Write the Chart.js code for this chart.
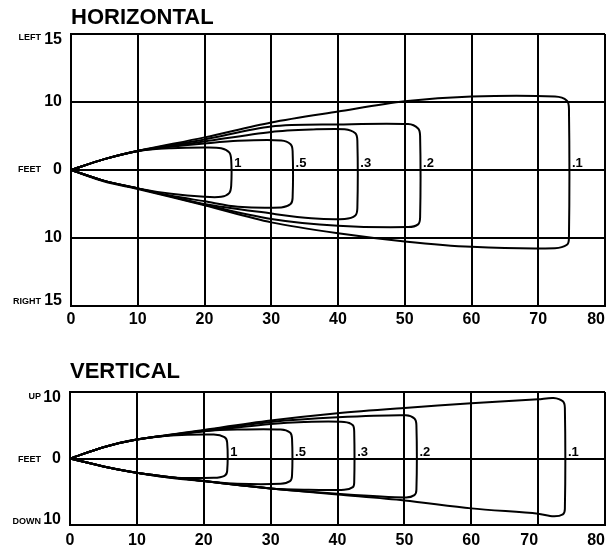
<!DOCTYPE html>
<html>
<head>
<meta charset="utf-8">
<script src="https://cdn.jsdelivr.net/npm/chart.js@4.4.1/dist/chart.umd.min.js"></script>
<style>
  body { margin: 0; background: #fff; }
  canvas { display: block; }
</style>
</head>
<body>
<canvas id="horizontal" width="607" height="336"></canvas>
<canvas id="vertical" width="607" height="218"></canvas>
<script>
// distance in feet along the beam
const xTicks = [0, 10, 20, 30, 40, 50, 60, 70, 80];

// contour names (sensitivity levels)
const contourLabels = ['1', '.5', '.3', '.2', '.1'];

// horizontal pattern: [feet ahead, feet left(+)/right(-)]
const hContour1 = [[0, 0], [5, 1.6], [10, 2.8], [15, 3.2], [20, 3.3], [22.5, 3.2], [23.7, 2.6], [24, 1.5],
  [24, -2.3], [23.7, -3.4], [22.5, -3.95], [20, -3.95], [15, -3.5], [10, -2.7], [5, -1.6], [0, 0]];
const hContour05 = [[0, 0], [5, 1.6], [10, 2.8], [15, 3.4], [20, 3.9], [25, 4.3], [31.5, 4.35], [32.9, 3.8], [33.2, 2.8],
  [33.2, -4.1], [32.9, -5.0], [31.5, -5.5], [25, -5.4], [20, -4.6], [15, -3.8], [10, -2.7], [5, -1.6], [0, 0]];
const hContour03 = [[0, 0], [5, 1.6], [10, 2.8], [20, 4.2], [30, 5.6], [36, 5.95], [41, 6.0], [42.6, 5.4], [42.9, 4.3],
  [42.9, -5.6], [42.6, -6.7], [41, -7.2], [36, -7.1], [30, -6.4], [20, -5.0], [10, -2.7], [5, -1.6], [0, 0]];
const hContour02 = [[0, 0], [5, 1.6], [10, 2.8], [20, 4.5], [30, 6.4], [40, 6.7], [50.5, 6.75], [52, 6.1], [52.3, 5.0],
  [52.3, -7.0], [52, -8.0], [50.5, -8.4], [40, -8.2], [30, -7.2], [20, -5.1], [10, -2.7], [5, -1.6], [0, 0]];
const hContour01 = [[0, 0], [5, 1.6], [10, 2.8], [20, 4.8], [30, 7.0], [40, 8.6], [50, 10.1], [60, 10.8], [72.5, 10.8],
  [74.3, 10.2], [74.6, 9.0], [74.6, -10.0], [74.3, -11.0], [72.5, -11.5], [60, -11.3], [50, -10.5], [40, -9.3],
  [30, -7.7], [20, -5.2], [10, -2.8], [5, -1.7], [0, 0]];

// vertical pattern: [feet ahead, feet up(+)/down(-)]
const vContour1 = [[0, 0], [5, 1.7], [10, 2.85], [15, 3.45], [21.5, 3.6], [23.1, 3.2], [23.5, 2.4],
  [23.5, -1.9], [23.1, -2.6], [21.5, -2.9], [15, -2.85], [10, -2.15], [5, -1.2], [0, 0]];
const vContour05 = [[0, 0], [5, 1.7], [10, 2.85], [15, 3.5], [20, 4.1], [25, 4.35], [31.5, 4.35], [32.9, 3.9], [33.2, 3.0],
  [33.2, -2.6], [32.9, -3.4], [31.5, -3.8], [25, -3.8], [20, -3.4], [15, -2.9], [10, -2.15], [5, -1.2], [0, 0]];
const vContour03 = [[0, 0], [5, 1.7], [10, 2.85], [20, 4.1], [30, 5.2], [35, 5.5], [41, 5.5], [42.3, 5.0], [42.5, 4.0],
  [42.5, -3.6], [42.3, -4.3], [41, -4.7], [35, -4.7], [30, -4.5], [20, -3.4], [10, -2.15], [5, -1.2], [0, 0]];
const vContour02 = [[0, 0], [5, 1.7], [10, 2.85], [20, 4.2], [30, 5.5], [40, 6.2], [50.2, 6.5], [51.5, 6.0], [51.8, 5.0],
  [51.8, -4.7], [51.5, -5.5], [50.2, -5.85], [40, -5.3], [30, -4.5], [20, -3.4], [10, -2.15], [5, -1.2], [0, 0]];
const vContour01 = [[0, 0], [5, 1.7], [10, 2.85], [20, 4.3], [30, 5.7], [40, 6.8], [50, 7.6], [60, 8.3], [70, 8.9],
  [72.3, 9.1], [73.7, 8.6], [74, 7.6], [74, -7.6], [73.7, -8.4], [72.3, -8.7], [70, -8.3], [60, -7.5], [50, -6.3],
  [40, -5.4], [30, -4.5], [20, -3.4], [10, -2.15], [5, -1.2], [0, 0]];

// y tick values and the labels printed beside them
const hYValues = [20, 10, 0, -10, -20];
const hYLabels = ['15', '10', '0', '10', '15'];
const hSideWords = ['LEFT', 'FEET', 'RIGHT'];
const vYValues = [10, 0, -10];
const vYLabels = ['10', '0', '10'];
const vSideWords = ['UP', 'FEET', 'DOWN'];

const FONT = '"Liberation Sans", Arial, Helvetica, sans-serif';

const toDatasets = (contours) => contours.map((pts, i) => ({
  label: contourLabels[i],
  data: pts.map(([x, y]) => ({ x, y })),
  showLine: true,
  borderColor: '#000',
  borderWidth: 2,
  pointRadius: 0,
  tension: 0.3,
  fill: false
}));

// titles, small side words and contour names
const annotate = {
  id: 'annotate',
  afterDraw(chart, args, opts) {
    const ctx = chart.ctx;
    const area = chart.chartArea;
    const xs = chart.scales.x;
    const ys = chart.scales.y;
    ctx.save();
    ctx.fillStyle = '#000';

    ctx.font = 'bold 22px ' + FONT;
    ctx.textAlign = 'left';
    ctx.textBaseline = 'alphabetic';
    ctx.fillText(opts.title, area.left, opts.titleY);

    ctx.font = 'bold 9px ' + FONT;
    ctx.textAlign = 'right';
    ctx.textBaseline = 'middle';
    const sideVals = [ys.max, 0, ys.min];
    opts.sideWords.forEach((w, i) => {
      ctx.fillText(w, 41, ys.getPixelForValue(sideVals[i]) + opts.sideShift[i]);
    });

    ctx.font = 'bold 13px ' + FONT;
    ctx.textAlign = 'left';
    ctx.textBaseline = 'alphabetic';
    chart.data.datasets.forEach(ds => {
      const maxX = Math.max(...ds.data.map(p => p.x));
      ctx.fillText(ds.label, xs.getPixelForValue(maxX) + 3, ys.getPixelForValue(0) - 3);
    });
    ctx.restore();
  }
};

const makeChart = (id, contours, cfg) => {
  const ctx = document.getElementById(id).getContext('2d');
  return new Chart(ctx, {
    type: 'scatter',
    data: { datasets: toDatasets(contours) },
    options: {
      responsive: false,
      animation: false,
      devicePixelRatio: 1,
      layout: { padding: { top: cfg.top, right: 2, left: 0, bottom: 0 } },
      plugins: {
        legend: { display: false },
        tooltip: { enabled: false },
        annotate: cfg.annotate
      },
      scales: {
        x: {
          type: 'linear',
          min: 0,
          max: 80,
          afterFit: (scale) => {
            scale.height = cfg.xHeight;
            scale.paddingLeft = 0;
            scale.paddingRight = 0;
          },
          afterBuildTicks: (scale) => { scale.ticks = xTicks.map(v => ({ value: v })); },
          grid: { color: '#000', lineWidth: 2, drawTicks: false },
          border: { display: true, color: '#000', width: 2 },
          ticks: {
            color: '#000',
            padding: cfg.xPad,
            maxRotation: 0,
            autoSkip: false,
            font: { family: FONT, weight: 'bold', size: 16 },
            callback: (v) => {
              // last label sits inside the frame, like the printed chart
              if (v === 80) return '80    ';
              if (v === 70 && cfg.shift70) return '70    ';
              return String(v);
            }
          }
        },
        y: {
          type: 'linear',
          min: cfg.yValues[cfg.yValues.length - 1],
          max: cfg.yValues[0],
          afterFit: (scale) => {
            scale.width = cfg.left;
            scale.paddingTop = 0;
            scale.paddingBottom = 0;
          },
          afterBuildTicks: (scale) => { scale.ticks = cfg.yValues.map(v => ({ value: v })); },
          grid: { color: '#000', lineWidth: 2, drawTicks: false },
          border: { display: true, color: '#000', width: 2 },
          ticks: {
            color: '#000',
            padding: 9,
            autoSkip: false,
            font: { family: FONT, weight: 'bold', size: 16, lineHeight: 0.7 },
            callback: (v) => {
              const label = cfg.yLabels[cfg.yValues.indexOf(v)];
              if (v === cfg.yValues[0]) return ['', label];
              if (v === cfg.yValues[cfg.yValues.length - 1]) return [label, ''];
              return label;
            }
          }
        }
      }
    },
    plugins: [annotate]
  });
};

makeChart('horizontal', [hContour1, hContour05, hContour03, hContour02, hContour01], {
  top: 34, left: 71, xHeight: 30, xPad: 4, shift70: false,
  yValues: hYValues, yLabels: hYLabels,
  annotate: { title: 'HORIZONTAL', titleY: 24, sideWords: hSideWords, sideShift: [4, 0, -4] }
});

makeChart('vertical', [vContour1, vContour05, vContour03, vContour02, vContour01], {
  top: 56, left: 70, xHeight: 29, xPad: 6, shift70: true,
  yValues: vYValues, yLabels: vYLabels,
  annotate: { title: 'VERTICAL', titleY: 42, sideWords: vSideWords, sideShift: [5, 1, -3] }
});
</script>
</body>
</html>
